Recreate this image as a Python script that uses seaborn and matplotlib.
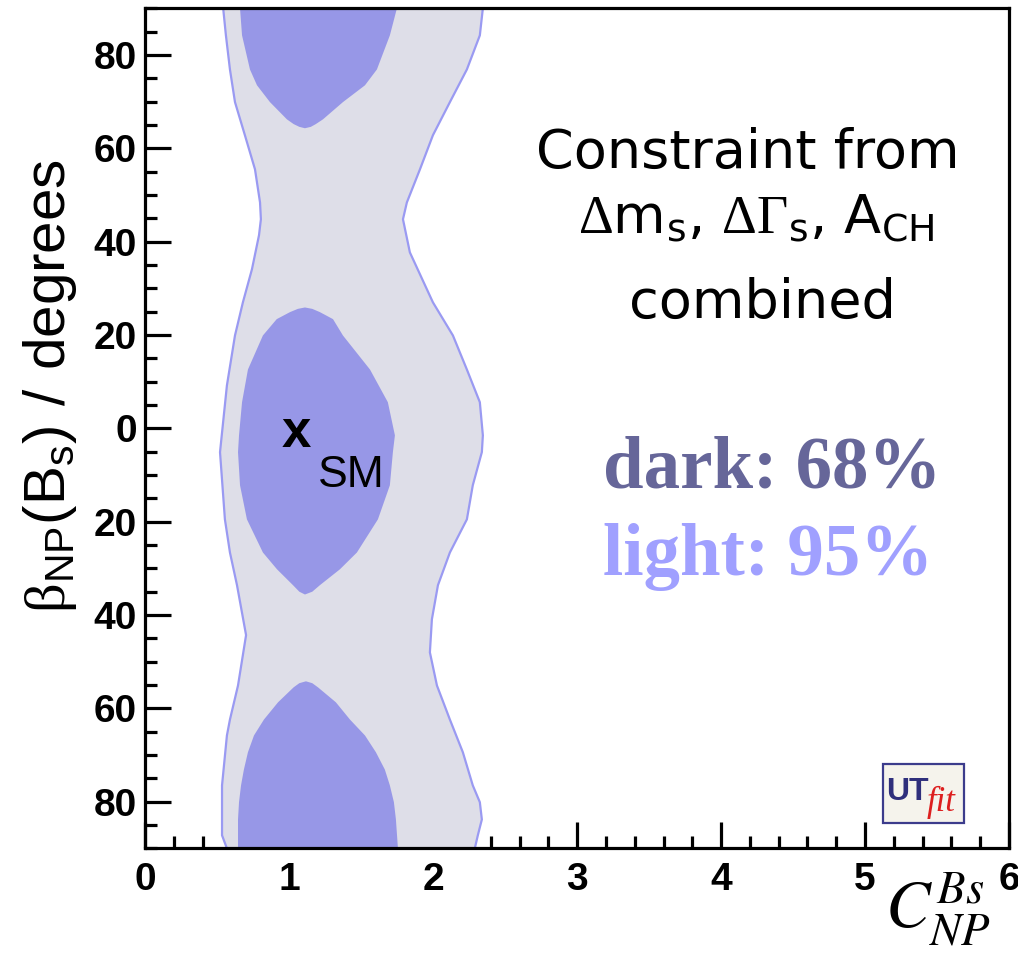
import numpy as np
import pandas as pd
import matplotlib
matplotlib.use("Agg")
import matplotlib.pyplot as plt
from matplotlib.patches import Rectangle
from matplotlib.ticker import MultipleLocator, FixedLocator, FixedFormatter
import seaborn as sns

# ---------------- data ----------------
# 95% region, left boundary (beta in degrees, C value)
left95_y = [90, 84.2, 76.9, 69.9, 62.8, 55.5, 48.4, 44.8, 41.4, 34.1, 27.0, 19.9, 9.2,
            -5.1, -19.5, -26.6, -33.6, -44.3, -55.1, -62.4, -65.8, -76.5, -87.2, -90]
left95_x = [0.541, 0.560, 0.588, 0.623, 0.692, 0.762, 0.797, 0.803, 0.790, 0.741, 0.678, 0.623, 0.567,
            0.519, 0.553, 0.588, 0.637, 0.700, 0.644, 0.588, 0.567, 0.533, 0.533, 0.567]
# 95% region, right boundary
right95_y = [90, 84.2, 76.9, 69.9, 62.8, 55.5, 48.4, 44.8, 37.7, 27.0, 19.9, 12.6, 5.6, -1.5,
             -5.1, -12.2, -19.5, -26.6, -33.6, -40.9, -48.0, -55.1, -62.4, -69.4, -76.5,
             -80.1, -83.8, -87.2, -90]
right95_x = [2.345, 2.324, 2.234, 2.116, 1.998, 1.908, 1.817, 1.790, 1.838, 1.998, 2.137, 2.234, 2.324, 2.345,
             2.338, 2.275, 2.234, 2.116, 2.033, 1.991, 1.977, 2.026, 2.116, 2.206, 2.275,
             2.324, 2.338, 2.310, 2.289]

# 68% regions (three islands): beta levels, left and right C boundaries
top68_y = [90, 84.2, 76.9, 73.5, 69.9, 66.2, 65.2, 64.6, 64.3]
top68_l = [0.658, 0.672, 0.727, 0.776, 0.866, 0.984, 1.030, 1.070, 1.109]
top68_r = [1.748, 1.699, 1.609, 1.526, 1.373, 1.234, 1.185, 1.150, 1.109]

mid68_y = [25.9, 25.6, 24.9, 23.4, 19.9, 12.6, 5.6, -1.5, -5.1, -12.2, -19.5, -26.6, -30.2, -33.6, -35.0, -35.6]
mid68_l = [1.109, 1.060, 1.005, 0.913, 0.817, 0.713, 0.672, 0.651, 0.644, 0.658, 0.706, 0.817, 0.915, 1.026, 1.070, 1.109]
mid68_r = [1.109, 1.160, 1.213, 1.304, 1.373, 1.561, 1.685, 1.734, 1.720, 1.699, 1.616, 1.470, 1.352, 1.213, 1.160, 1.109]

bot68_y = [-54.2, -54.6, -55.5, -58.7, -62.4, -65.8, -69.4, -73.1, -76.5, -80.1, -83.8, -90]
bot68_l = [1.116, 1.070, 1.030, 0.922, 0.824, 0.755, 0.713, 0.685, 0.665, 0.651, 0.644, 0.644]
bot68_r = [1.116, 1.160, 1.200, 1.324, 1.422, 1.526, 1.602, 1.664, 1.699, 1.727, 1.741, 1.755]

sm_point = (1.0, 0.0)

x_ticks = [0, 1, 2, 3, 4, 5, 6]
x_ticklabels = ["0", "1", "2", "3", "4", "5", "6"]
y_ticks = [-80, -60, -40, -20, 0, 20, 40, 60, 80]
y_ticklabels = ["80", "60", "40", "20", "0", "20", "40", "60", "80"]

# ---------------- style ----------------
sns.set_style("ticks")
plt.rcParams['font.family'] = ['Liberation Sans', 'DejaVu Sans']
plt.rcParams['text.color'] = 'black'
plt.rcParams['axes.labelcolor'] = 'black'
plt.rcParams['xtick.color'] = 'black'
plt.rcParams['ytick.color'] = 'black'
plt.rcParams['xtick.labelcolor'] = 'black'
plt.rcParams['ytick.labelcolor'] = 'black'
plt.rcParams['mathtext.fontset'] = 'custom'
plt.rcParams['mathtext.rm'] = 'DejaVu Sans'
plt.rcParams['mathtext.it'] = 'DejaVu Sans:italic'
plt.rcParams['mathtext.sf'] = 'Liberation Serif'
plt.rcParams['mathtext.tt'] = 'Liberation Sans'

LIGHT = '#dedee8'
DARK = '#9797e7'
EDGE = '#9a9af2'

W, H = 1018, 961
fig = plt.figure(figsize=(W / 100, H / 100), dpi=100)
ax_l, ax_r, ax_t, ax_b = 145.3, 1009.0, 8.3, 848.4
ax = fig.add_axes([ax_l / W, 1 - ax_b / H, (ax_r - ax_l) / W, (ax_b - ax_t) / H])

# 95% region
poly_x = np.concatenate([left95_x, right95_x[::-1]])
poly_y = np.concatenate([left95_y, right95_y[::-1]])
ax.fill(poly_x, poly_y, color=LIGHT, lw=0, zorder=1)

# 68% islands
for yy, ll, rr in [(top68_y, top68_l, top68_r), (mid68_y, mid68_l, mid68_r), (bot68_y, bot68_l, bot68_r)]:
    ax.fill(np.concatenate([ll, rr[::-1]]), np.concatenate([yy, yy[::-1]]), color=DARK, lw=0, zorder=2)

# 95% outline
edges = pd.concat([
    pd.DataFrame({'C': left95_x, 'beta': left95_y, 'side': 'left'}),
    pd.DataFrame({'C': right95_x, 'beta': right95_y, 'side': 'right'}),
])
sns.lineplot(data=edges, x='C', y='beta', units='side', estimator=None, sort=False,
             orient='y', color=EDGE, lw=1.6, ax=ax, zorder=3, legend=False)

ax.set_xlim(0, 6)
ax.set_ylim(-90, 90)

ax.xaxis.set_major_locator(FixedLocator(x_ticks))
ax.xaxis.set_major_formatter(FixedFormatter(x_ticklabels))
ax.xaxis.set_minor_locator(MultipleLocator(0.2))
ax.yaxis.set_major_locator(FixedLocator(y_ticks))
ax.yaxis.set_major_formatter(FixedFormatter(y_ticklabels))
ax.yaxis.set_minor_locator(MultipleLocator(5))

for s in ax.spines.values():
    s.set_linewidth(2.3)
    s.set_color('black')
    s.set_zorder(5)
ax.tick_params(which='both', direction='in', width=2.3, color='black', labelcolor='black',
               top=False, right=False)
ax.tick_params(which='major', length=19)
ax.tick_params(which='minor', length=8.5)
ax.tick_params(axis='y', which='major', pad=6)
ax.tick_params(axis='x', which='major', pad=10)
for lab in ax.get_xticklabels() + ax.get_yticklabels():
    lab.set_fontsize(28)
    lab.set_fontweight('bold')
    lab.set_fontfamily('Liberation Sans')

# axis labels
ax.set_ylabel(r'$\mathsf{\beta}_\mathtt{NP}\mathtt{(B}_\mathtt{s}\mathtt{)\ /\ degrees}$',
              fontsize=42, rotation=90, ha='center', va='center', color='black')
ax.yaxis.set_label_coords((50 - ax_l) / (ax_r - ax_l), (ax_b - 386) / (ax_b - ax_t))
ax.set_xlabel(r'$C^{Bs}_{NP}$', fontsize=48, math_fontfamily='stix', ha='left', va='baseline',
              color='black')
ax.xaxis.set_label_coords((885 - ax_l) / (ax_r - ax_l), (ax_b - 928) / (ax_b - ax_t))

# SM marker
ax.text(sm_point[0] + 0.047, sm_point[1] - 0.9, 'x', fontsize=38, fontweight='bold',
        ha='center', va='center', zorder=6, fontfamily='Liberation Sans', color='black')
fig.text(318 / W, 1 - 487 / H, 'SM', fontsize=32, ha='left', va='baseline',
         fontfamily='Liberation Sans', color='black')

# annotation text
fig.text(748 / W, 1 - 168 / H, 'Constraint from', fontsize=39, ha='center', va='baseline',
         fontfamily='DejaVu Sans', color='black')
fig.text(756 / W, 1 - 233 / H,
         r'$\mathsf{\Delta}\mathrm{m}_\mathrm{s}$, $\mathsf{\Delta\Gamma}_\mathrm{s}$, $\mathrm{A}_\mathrm{CH}$',
         fontsize=39, ha='center', va='baseline', color='black', fontfamily='DejaVu Sans')
fig.text(762 / W, 1 - 318 / H, 'combined', fontsize=39, ha='center', va='baseline',
         fontfamily='DejaVu Sans', color='black')
fig.text(603 / W, 1 - 488 / H, 'dark: 68%', fontsize=52.5, fontweight='bold', color='#666699',
         fontfamily='Liberation Serif', ha='left', va='baseline')
fig.text(603 / W, 1 - 575 / H, 'light: 95%', fontsize=52.5, fontweight='bold', color='#a0a0ff',
         fontfamily='Liberation Serif', ha='left', va='baseline')

# UTfit logo
fig.patches.append(Rectangle((883 / W, 1 - 823 / H), 81 / W, 59 / H, transform=fig.transFigure,
                             facecolor='#f5f3ec', edgecolor='#3c3c8c', lw=1.6, zorder=10))
fig.text(886 / W, 1 - 800 / H, 'UT', fontsize=23, fontweight='bold', color='#2f2f7c',
         fontfamily='Liberation Sans', ha='left', va='baseline', zorder=11)
fig.text(927 / W, 1 - 811 / H, 'fit', fontsize=25, style='italic', color='#dd1f1f',
         fontfamily='Liberation Serif', ha='left', va='baseline', zorder=11)

fig.savefig('out.png', dpi=100)
